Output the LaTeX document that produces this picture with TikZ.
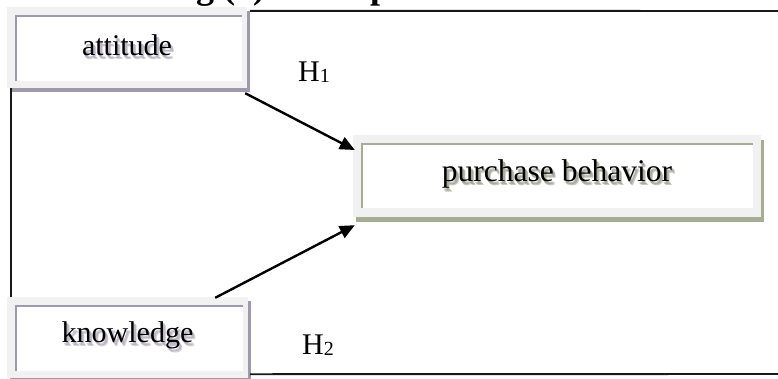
\documentclass[tikz,border=0pt]{standalone}
\usepackage{fontspec}
\setmainfont{Liberation Serif}
\usetikzlibrary{arrows.meta,shadows}
\definecolor{framegray}{HTML}{F1F1F1}
\definecolor{lav}{HTML}{9F99AE}
\definecolor{sage}{HTML}{A6AD92}
\newcommand{\shadowlayer}[4]{\makebox[0pt][l]{\raisebox{-#3}{\hspace{#2}\textcolor{#1}{#4}}}}
\newcommand{\shadowtext}[2]{\shadowlayer{#1!45}{1.5pt}{2.2pt}{#2}\shadowlayer{#1!45}{3pt}{3.8pt}{#2}\shadowlayer{#1!70}{2.2pt}{3pt}{#2}#2}
\tikzset{
  boxbase/.style={fill=framegray, draw=none, inner sep=0pt, font=\fontsize{30}{34}\selectfont},
  lavbox/.style={boxbase, drop shadow={shadow xshift=3pt, shadow yshift=-4pt, fill=lav, opacity=1},
    path picture={
      \fill[white] ([shift={(8,8)}]path picture bounding box.north west) rectangle ([shift={(-5,-7)}]path picture bounding box.south east);
      \draw[lav, line width=2pt] ([shift={(9,-7)}]path picture bounding box.south west) -- ([shift={(9,9)}]path picture bounding box.north west) -- ([shift={(-5,9)}]path picture bounding box.north east);
    }},
  sagebox/.style={boxbase, font=\fontsize{31.5}{36}\selectfont, drop shadow={shadow xshift=3pt, shadow yshift=-5pt, fill=sage, opacity=1},
    path picture={
      \fill[white] ([shift={(8,8)}]path picture bounding box.north west) rectangle ([shift={(-8,-9)}]path picture bounding box.south east);
      \draw[sage, line width=2pt] ([shift={(9,-9)}]path picture bounding box.south west) -- ([shift={(9,9)}]path picture bounding box.north west) -- ([shift={(-8,9)}]path picture bounding box.north east);
    }},
  frameline/.style={line width=1.9pt, black!90},
  hyparrow/.style={line width=2.4pt, -{Triangle[length=15pt,width=13pt]}},
  hlabel/.style={font=\fontsize{30}{34}\selectfont, inner sep=0pt},
  titletext/.style={font=\fontsize{36}{40}\selectfont\bfseries, inner sep=0pt, anchor=base west}
}
\begin{document}
\begin{tikzpicture}[x=1pt,y=-1pt]
\useasboundingbox[fill=white] (0,0) rectangle (778,378);
\node[titletext] (title) at (80,-2) {Drawing (1) Conceptual Model};
\node[lavbox, minimum width=240pt, minimum height=81pt] (att) at (127,47.5) {\shadowtext{lav}{attitude}};
\node[lavbox, minimum width=241pt, minimum height=81pt] (know) at (127.5,337.5) {\shadowtext{lav}{knowledge}};
\node[sagebox, minimum width=408pt, minimum height=82pt] (pur) at (557,176) {\shadowtext{sage!80!black}{purchase behavior}};
\coordinate (trc) at (778,11);
\coordinate (brc) at (778,374);
\draw[frameline] ([shift={(3,4)}]att.north east) -- (trc);
\draw[frameline] ([shift={(4,0)}]att.south west) -- ([shift={(4,0)}]know.north west);
\draw[frameline] ([shift={(2,-4)}]know.south east) -- (brc);
\draw[hyparrow] ([shift={(-2,5)}]att.south east) -- ([shift={(2,-26)}]pur.west);
\draw[hyparrow] ([shift={(-33,1)}]know.north east) -- ([shift={(2,8)}]pur.south west);
\node[hlabel] (h1) at (314,72) {H\raisebox{-1.5pt}{\fontsize{20}{20}\selectfont 1}};
\node[hlabel] (h2) at (318,345) {H\raisebox{-1.5pt}{\fontsize{20}{20}\selectfont 2}};
\end{tikzpicture}
\end{document}
